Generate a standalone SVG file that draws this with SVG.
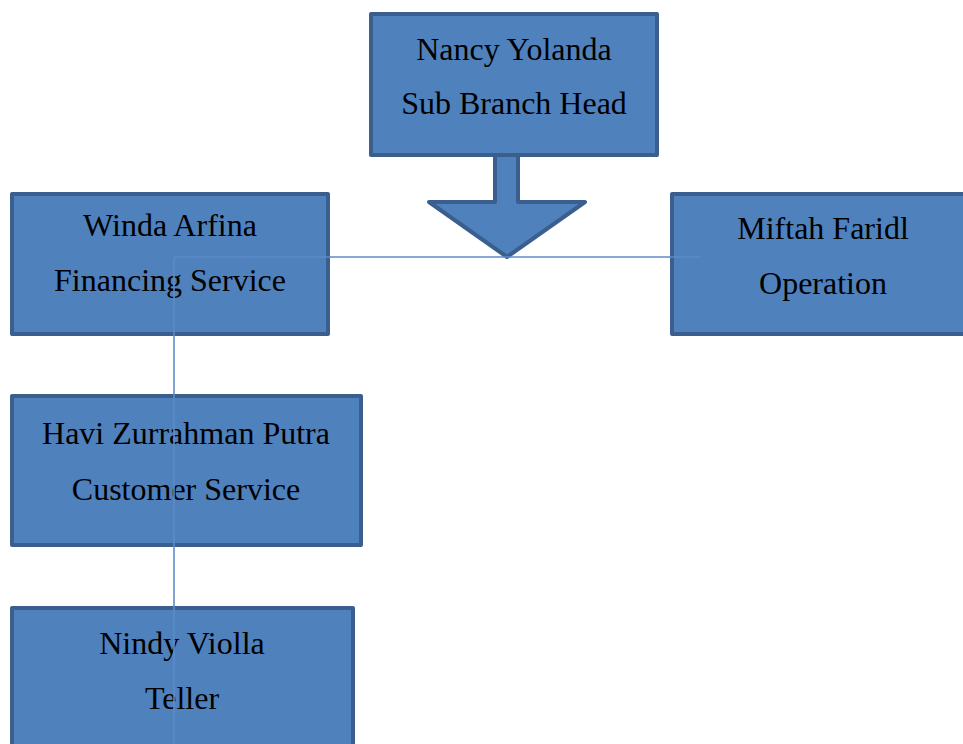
<svg xmlns="http://www.w3.org/2000/svg" width="963" height="744" viewBox="0 0 963 744">
<style>
.box{fill:#4F81BD;stroke:#3A5F8F;stroke-width:4;stroke-linejoin:round}
.t{font-family:"Liberation Serif","Times New Roman",serif;font-size:32px;fill:#000;text-anchor:middle}
.c{stroke:#5B8CC8;stroke-width:1.6;fill:none}
</style>
<rect width="963" height="744" fill="#fff"/>
<g id="nancy">
<rect class="box" x="371" y="14" width="286" height="141"/>
<path class="box" d="M495 155 V202 H429 L507 257 L585 202 H518 V155 Z"/>
<text class="t" x="514" y="60">Nancy Yolanda</text>
<text class="t" x="514" y="114">Sub Branch Head</text>
</g>
<g id="winda">
<rect class="box" x="12" y="194" width="316" height="140"/>
<text class="t" x="170" y="236">Winda Arfina</text>
<text class="t" x="170" y="291">Financing Service</text>
</g>
<g id="miftah">
<rect class="box" x="672" y="194" width="300" height="140"/>
<text class="t" x="823" y="239">Miftah Faridl</text>
<text class="t" x="823" y="294">Operation</text>
</g>
<g id="havi">
<rect class="box" x="12" y="396" width="349" height="149"/>
<text class="t" x="186" y="444">Havi Zurrahman Putra</text>
<text class="t" x="186" y="500">Customer Service</text>
</g>
<g id="nindy">
<rect class="box" x="12" y="608" width="341" height="150"/>
<text class="t" x="182" y="654">Nindy Violla</text>
<text class="t" x="182" y="709">Teller</text>
</g>
<g id="connectors">
<path class="c" d="M174 257 H700"/>
<path class="c" d="M174 257 V744"/>
</g>
</svg>
